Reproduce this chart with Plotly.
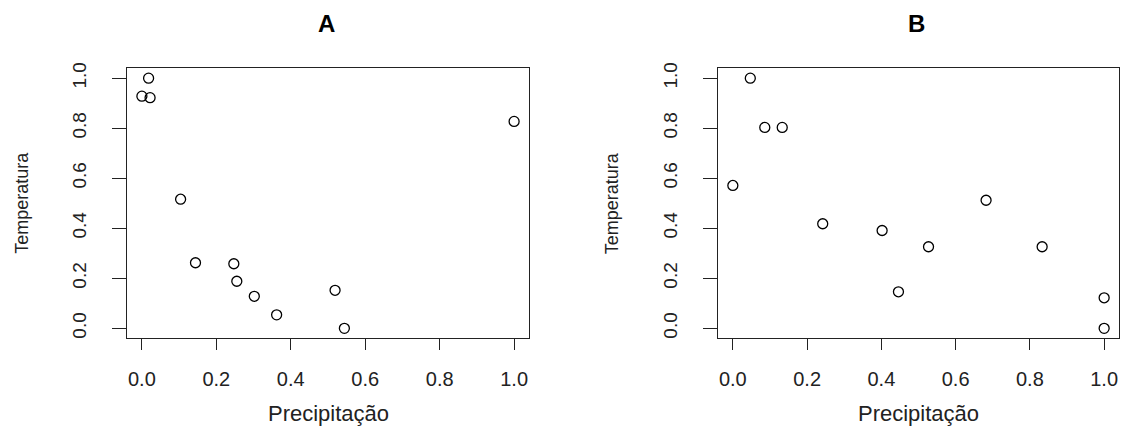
import plotly.graph_objects as go

# Panel A data
a_precip = [0.0, 0.018, 0.022, 0.104, 0.144, 0.247, 0.255, 0.302, 0.362, 0.519, 0.544, 1.0]
a_temp = [0.928, 1.0, 0.922, 0.516, 0.262, 0.258, 0.188, 0.128, 0.054, 0.152, 0.0, 0.827]

# Panel B data
b_precip = [0.0, 0.047, 0.086, 0.133, 0.242, 0.402, 0.446, 0.527, 0.682, 0.833, 1.0, 1.0]
b_temp = [0.571, 1.0, 0.803, 0.803, 0.418, 0.391, 0.146, 0.326, 0.512, 0.326, 0.122, 0.0]

panel_titles = ["A", "B"]
x_title = "Precipitação"
y_title = "Temperatura"
tick_vals = [0.0, 0.2, 0.4, 0.6, 0.8, 1.0]
tick_text = ["0.0", "0.2", "0.4", "0.6", "0.8", "1.0"]

W, H = 1125, 432
FONT = "Liberation Sans, Arial, sans-serif"
LINE = "#222222"

fig = go.Figure()

fig.add_trace(go.Scatter(x=a_precip, y=a_temp, mode="markers", xaxis="x", yaxis="y",
                         marker=dict(symbol="circle-open", size=10, color="black",
                                     line=dict(width=1.3, color="black")),
                         showlegend=False))
fig.add_trace(go.Scatter(x=b_precip, y=b_temp, mode="markers", xaxis="x2", yaxis="y2",
                         marker=dict(symbol="circle-open", size=10, color="black",
                                     line=dict(width=1.3, color="black")),
                         showlegend=False))

dom_a = [127 / W, 529 / W]
dom_b = [718 / W, 1119 / W]
dom_y = [1 - 337 / H, 1 - 63 / H]

def xaxis_cfg(domain, anchor):
    return dict(domain=domain, anchor=anchor, range=[-0.04, 1.04],
                tickvals=tick_vals, ticktext=tick_text,
                ticks="outside", ticklen=11, tickwidth=1.3, tickcolor=LINE,
                showline=True, linecolor=LINE, linewidth=1.3, mirror=True,
                showgrid=False, zeroline=False,
                tickfont=dict(family=FONT, size=20, color="#222222"),
                ticklabelstandoff=12, fixedrange=True)

def yaxis_cfg(anchor):
    return dict(domain=dom_y, anchor=anchor, range=[-0.04, 1.04],
                tickvals=tick_vals, ticktext=tick_text, tickangle=-90,
                ticks="outside", ticklen=14, tickwidth=1.3, tickcolor=LINE,
                showline=True, linecolor=LINE, linewidth=1.3, mirror=True,
                showgrid=False, zeroline=False,
                tickfont=dict(family=FONT, size=19, color="#222222"),
                ticklabelstandoff=18, fixedrange=True)

annotations = []
for i, (dom, yt_x) in enumerate([(dom_a, 22.5), (dom_b, 612)]):
    cx = (dom[0] + dom[1]) / 2
    annotations.append(dict(text="<b>%s</b>" % panel_titles[i], x=cx - 2 / W, y=1 - 18 / H,
                            xref="paper", yref="paper", showarrow=False,
                            xanchor="center", yanchor="middle",
                            font=dict(family=FONT, size=24, color="black")))
    annotations.append(dict(text=x_title, x=cx, y=1 - 413 / H,
                            xref="paper", yref="paper", showarrow=False,
                            xanchor="center", yanchor="middle",
                            font=dict(family=FONT, size=22, color="#222222")))
    annotations.append(dict(text=y_title, x=yt_x / W, y=1 - 200 / H,
                            xref="paper", yref="paper", showarrow=False, textangle=-90,
                            xanchor="center", yanchor="middle",
                            font=dict(family=FONT, size=18, color="#222222")))

fig.update_layout(
    width=W, height=H,
    margin=dict(l=0, r=0, t=0, b=0),
    paper_bgcolor="white", plot_bgcolor="white",
    xaxis=xaxis_cfg(dom_a, "y"),
    yaxis=yaxis_cfg("x"),
    xaxis2=xaxis_cfg(dom_b, "y2"),
    yaxis2=yaxis_cfg("x2"),
    annotations=annotations,
)

fig.write_html("out.html",
               config={"displayModeBar": False},
               post_script="document.body.style.margin='0';document.body.style.overflow='hidden';")
